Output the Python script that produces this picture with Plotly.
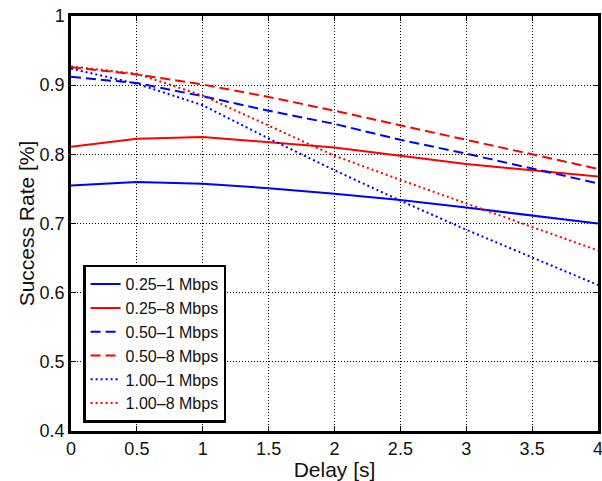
import plotly.graph_objects as go

delay = [0, 0.5, 1, 1.5, 2, 2.5, 3, 3.5, 4]

rate_025_1 = [0.755, 0.760, 0.7575, 0.751, 0.743, 0.734, 0.723, 0.712, 0.700]
rate_025_8 = [0.811, 0.8225, 0.825, 0.818, 0.810, 0.798, 0.786, 0.777, 0.768]
rate_050_1 = [0.912, 0.903, 0.884, 0.863, 0.844, 0.821, 0.801, 0.779, 0.758]
rate_050_8 = [0.926, 0.9155, 0.901, 0.883, 0.863, 0.842, 0.820, 0.800, 0.779]
rate_100_1 = [0.924, 0.902, 0.871, 0.823, 0.777, 0.733, 0.691, 0.651, 0.611]
rate_100_8 = [0.927, 0.9165, 0.885, 0.842, 0.798, 0.763, 0.729, 0.696, 0.661]

series = [
    ('0.25\u20131 Mbps', rate_025_1, 'blue', 'solid'),
    ('0.25\u20138 Mbps', rate_025_8, 'red', 'solid'),
    ('0.50\u20131 Mbps', rate_050_1, 'blue', '10px,5px'),
    ('0.50\u20138 Mbps', rate_050_8, 'red', '10px,5px'),
    ('1.00\u20131 Mbps', rate_100_1, 'blue', '2px,3px'),
    ('1.00\u20138 Mbps', rate_100_8, 'red', '2px,3px'),
]

fig = go.Figure()
for name, vals, color, dash in series:
    fig.add_trace(go.Scatter(x=delay, y=vals, mode='lines', name=name,
                             line=dict(color=color, dash=dash, width=2)))

axis_style = dict(showline=True, linecolor='black', linewidth=2.5, mirror='ticks',
                  ticks='inside', ticklen=5, tickcolor='black', tickwidth=1,
                  showgrid=True, gridcolor='black', griddash='1px,2px', gridwidth=1,
                  zeroline=False, automargin=False, ticklabeloverflow='allow',
                  tickfont=dict(size=18, color='#111'))

fig.update_xaxes(range=[0, 4], dtick=0.5, title=dict(text='Delay [s]', standoff=2,
                 font=dict(size=21, color='#111')), **axis_style)
fig.update_yaxes(range=[0.4, 1], dtick=0.1, title=dict(text='Success Rate [%]', standoff=0,
                 font=dict(size=21, color='#111')), **axis_style)

fig.update_layout(width=602, height=481,
                  margin=dict(l=71, r=4, t=16, b=50),
                  paper_bgcolor='white', plot_bgcolor='white',
                  font=dict(family='Liberation Sans, Arial, sans-serif', color='#111'),
                  legend=dict(x=0.023, y=0.02, xanchor='left', yanchor='bottom',
                              bgcolor='white', bordercolor='black', borderwidth=2.5,
                              font=dict(size=16, color='#111'), tracegroupgap=0,
                              itemwidth=30, entrywidth=108))

# page has a default 8px body margin; drop it so the figure fills the window
fig.write_html("out.html", config={'displayModeBar': False},
               post_script="document.body.style.margin='0';")
